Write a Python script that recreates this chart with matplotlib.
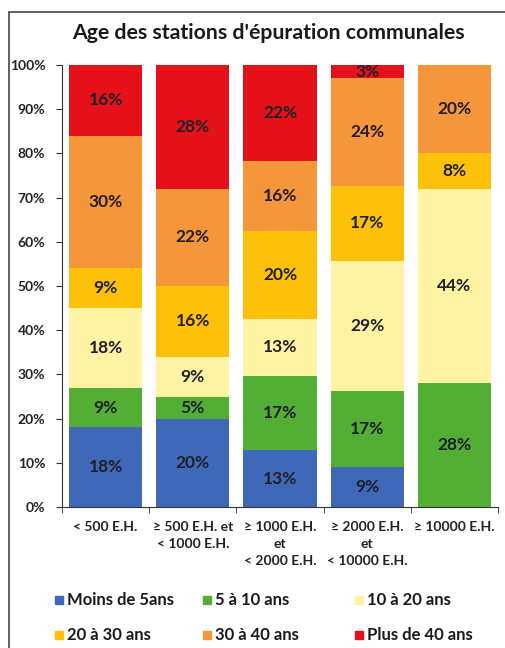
import matplotlib
matplotlib.use('Agg')
import matplotlib.pyplot as plt
from matplotlib.patches import Rectangle
import numpy as np

plt.rcParams['font.family'] = ['Lato', 'DejaVu Sans']

categories = ['< 500 E.H.', '\u2265 500 E.H. et\n< 1000 E.H.', '\u2265 1000 E.H.\net\n< 2000 E.H.',
              '\u2265 2000 E.H.\net\n< 10000 E.H.', '\u2265 10000 E.H.']
series_names = ['Moins de 5ans', '5 \u00e0 10 ans', '10 \u00e0 20 ans',
                '20 \u00e0 30 ans', '30 \u00e0 40 ans', 'Plus de 40 ans']
moins_5 = [18, 20, 13, 9, 0]
ans_5_10 = [9, 5, 17, 17, 28]
ans_10_20 = [18, 9, 13, 29, 44]
ans_20_30 = [9, 16, 20, 17, 8]
ans_30_40 = [30, 22, 16, 24, 20]
plus_40 = [16, 28, 22, 3, 0]
colors = ['#4068B8', '#52AE34', '#FEF3A3', '#FDC10A', '#F5963A', '#E5111A']

data = np.array([moins_5, ans_5_10, ans_10_20, ans_20_30, ans_30_40, plus_40], dtype=float)
shares = data / data.sum(axis=0) * 100

fig = plt.figure(figsize=(5.06, 6.48), dpi=100)
ax = fig.add_axes([62 / 506, 1 - 507 / 648, 436 / 506, 442 / 648])

x = np.arange(len(categories))
bottom = np.zeros(len(categories))
for i, name in enumerate(series_names):
    ax.bar(x, shares[i], 0.84, bottom=bottom, color=colors[i], label=name)
    for j in range(len(categories)):
        if data[i, j] > 0:
            ax.text(x[j], bottom[j] + shares[i][j] / 2, f'{int(data[i, j])}%',
                    ha='center', va='center', fontsize=12.5, fontweight='bold', color='#1f1f2a')
    bottom += shares[i]

ax.set_xlim(-0.5, 4.5)
ax.set_ylim(0, 100)
ax.set_yticks(range(0, 101, 10))
ax.set_yticklabels([f'{v}%' for v in range(0, 101, 10)], fontsize=10, fontweight='bold', color='#222222')
ax.set_xticks(x)
ax.set_xticklabels(categories, fontsize=10, fontweight='bold', color='#222222', linespacing=1.5)
ax.set_xticks(np.arange(-0.5, 5, 1), minor=True)
ax.tick_params(axis='x', which='major', length=0, pad=10)
ax.tick_params(axis='x', which='minor', length=4, direction='out', color='#333333')
ax.tick_params(axis='y', length=4, direction='out', color='#333333', pad=8)
for s in ['top', 'right']:
    ax.spines[s].set_visible(False)
for s in ['left', 'bottom']:
    ax.spines[s].set_color('#333333')

fig.text(268 / 506, 1 - 39 / 648, "Age des stations d'\u00e9puration communales",
         ha='center', va='baseline', fontsize=15.3, fontweight='bold', color='#1a1a1a')

# frame around the chart area (cut by the image edges)
fig.patches.append(Rectangle((9 / 506, -0.1), 1.2, 1.1 - 12 / 648,
                             transform=fig.transFigure, fill=False, ec='#555555', lw=1.3))

# legend drawn by hand, 2 rows x 3 columns
leg_x = [55, 203, 355]
leg_y = [600, 635]
for i, name in enumerate(series_names):
    px = leg_x[i % 3]
    py = leg_y[i // 3]
    fig.patches.append(Rectangle((px / 506, 1 - (py + 4) / 648), 8 / 506, 8 / 648,
                                 transform=fig.transFigure, color=colors[i]))
    fig.text((px + 12) / 506, 1 - py / 648, name, ha='left', va='center',
             fontsize=12, fontweight='bold', color='#1a1a1a')

fig.savefig('out.png', dpi=100)
